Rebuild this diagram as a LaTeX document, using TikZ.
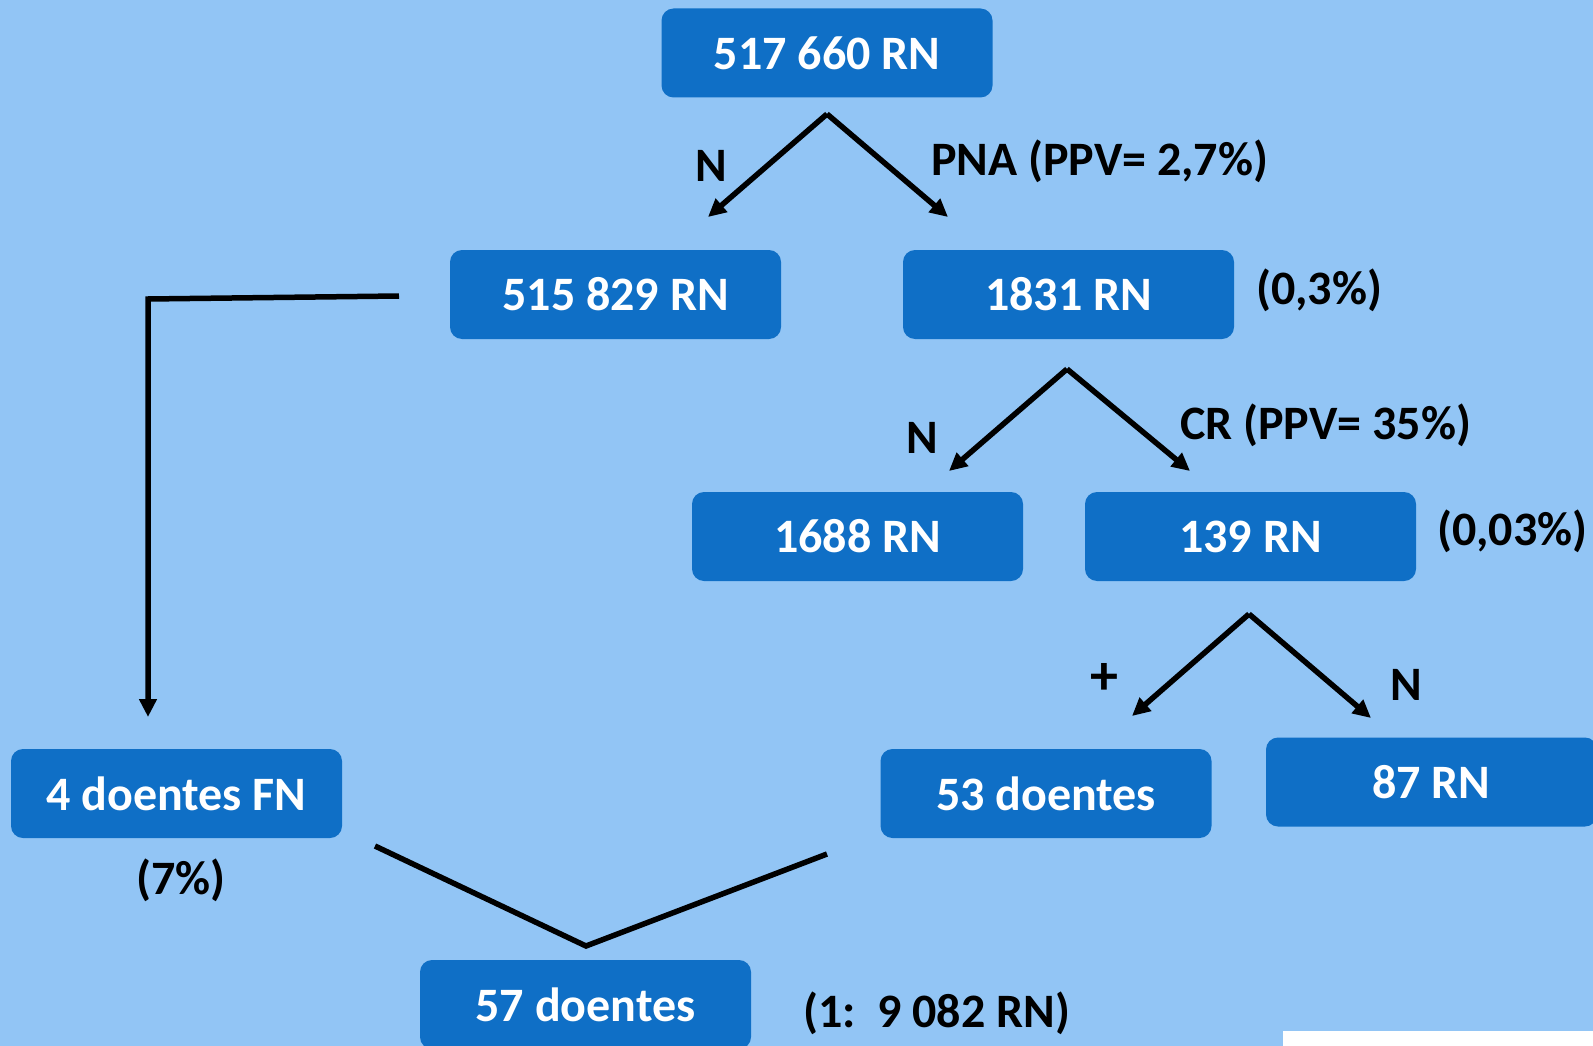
\documentclass[tikz,border=0pt]{standalone}
\usepackage{fontspec}
\setmainfont{Carlito}
\usetikzlibrary{arrows.meta}
\definecolor{bgblue}{HTML}{92C5F5}
\definecolor{boxblue}{HTML}{0F6FC6}
\tikzset{
  box/.style={fill=boxblue, rounded corners=12pt, minimum width=331pt, minimum height=89pt, inner sep=0pt, text=white, font=\fontsize{48}{56}\selectfont\bfseries},
  lbl/.style={inner sep=0pt, text=black, font=\fontsize{48}{56}\selectfont\bfseries},
  conn/.style={line width=5.5pt, black},
  arr/.style={conn, -{Triangle[length=18pt,width=17pt]}}
}
\begin{document}
\begin{tikzpicture}[x=1pt,y=-1pt]
\useasboundingbox (0,0) rectangle (1593,1046);
\clip (0,0) rectangle (1593,1046);
\fill[bgblue] (0,0) rectangle (1593,1046);
\fill[white] (1283,1031) rectangle (1593,1046);

% boxes
\node[box] (top) at (827,53) {517 660 RN};
\node[box] (n515) at (615.5,294.5) {515 829 RN};
\node[box] (n1831) at (1068.5,294.5) {1831 RN};
\node[box] (n1688) at (857.5,536.5) {1688 RN};
\node[box] (n139) at (1250.5,536.5) {139 RN};
\node[box] (n4) at (176.5,793.5) {4 doentes FN};
\node[box] (n53) at (1046,793.5) {53 doentes};
\node[box] (n87) at (1431.5,782) {87 RN};
\node[box] (n57) at (585.5,1004.5) {57 doentes};

% coordinates
\coordinate (a1) at (827,114);
\coordinate (a1l) at (708,217);
\coordinate (a1r) at (948,217);
\coordinate (a2) at (1067,369);
\coordinate (a2l) at (949,471);
\coordinate (a2r) at (1190,471);
\coordinate (a3) at (1249,614);
\coordinate (a3l) at (1132,716);
\coordinate (a3r) at (1371,718);
\coordinate (l0) at (399,296);
\coordinate (l1) at (148,299);
\coordinate (l2) at (148,717);
\coordinate (v0) at (375,846);
\coordinate (v1) at (586,946);
\coordinate (v2) at (827,854);

% connectors
\draw[arr] (a1) -- (a1l);
\draw[arr] (a1) -- (a1r);
\draw[arr] (a2) -- (a2l);
\draw[arr] (a2) -- (a2r);
\draw[arr] (a3) -- (a3l);
\draw[arr] (a3) -- (a3r);
\draw[arr] (l0) -- (l1) -- (l2);
\draw[conn] (v0) -- (v1) -- (v2);

% labels
\node[lbl] (t1) at (711,166) {N};
\node[lbl, anchor=west] (t2) at (931,161) {PNA (PPV= 2,7\%)};
\node[lbl, anchor=west] (t3) at (1256,290) {(0,3\%)};
\node[lbl] (t4) at (922,438) {N};
\node[lbl, anchor=west] (t5) at (1180,425) {CR (PPV= 35\%)};
\node[lbl, anchor=west] (t6) at (1437,531) {(0,03\%)};
\node[lbl, font=\fontsize{56}{60}\selectfont\bfseries] (t7) at (1104,679) {+};
\node[lbl] (t8) at (1406,685) {N};
\node[lbl] (t9) at (181,880) {(7\%)};
\node[lbl, anchor=west] (t10) at (803,1013) {(1:~~9 082 RN)};
\end{tikzpicture}
\end{document}
